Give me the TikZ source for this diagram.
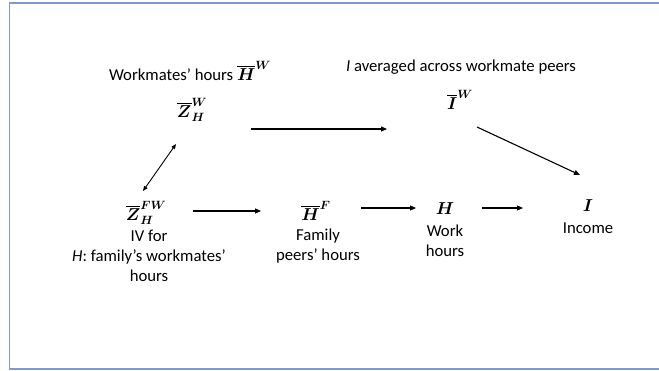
\documentclass[tikz,border=0pt]{standalone}
\usepackage{amsmath}
\usepackage{fontspec}
\setmainfont{Carlito}
\usepackage{xcolor}
\usepackage{tikz}
\usetikzlibrary{arrows.meta, positioning, calc}

\definecolor{framecol}{HTML}{7F9CC6}

\begin{document}
\begin{tikzpicture}[x=1pt, y=-1pt,
    var/.style={inner sep=0pt, font=\fontsize{16.5}{20}\selectfont},
    lbl/.style={inner sep=0pt, align=center, font=\fontsize{16.7}{20}\selectfont},
    arr/.style={line width=1.1pt, -{Triangle[length=6pt,width=5pt]}},
    dbl/.style={line width=0.9pt, {Triangle[length=5pt,width=4pt]}-{Triangle[length=5pt,width=4pt]}}]
    \useasboundingbox (0,0) rectangle (659,370);
    \draw[framecol, line width=1.5pt] (9.5,3) rectangle (665,369);

    % top row
    \node[lbl] (hwlbl) at (190,71) {Workmates’ hours $\overline{\boldsymbol{H}}^{\boldsymbol{W}}$};
    \node[var] (zw) at (192,110) {$\overline{\boldsymbol{Z}}_{\boldsymbol{H}}^{\boldsymbol{W}}$};
    \node[lbl] (iwlbl) at (461,67) {\textit{I} averaged across workmate peers};
    \node[var] (iw) at (460,100) {$\overline{\boldsymbol{I}}^{\boldsymbol{W}}$};

    % bottom row
    \node[var] (zfw) at (146,213) {$\overline{\boldsymbol{Z}}_{\boldsymbol{H}}^{\boldsymbol{FW}}$};
    \node[lbl] (zfwlbl) at (149,256) {IV for\\\textit{H}: family’s workmates’\\hours};
    \node[var] (hf) at (316,211) {$\overline{\boldsymbol{H}}^{\boldsymbol{F}}$};
    \node[lbl] (hflbl) at (318,246) {Family\\peers’ hours};
    \node[var] (h) at (445,209) {$\boldsymbol{H}$};
    \node[lbl] (hlbl) at (445,241) {Work\\hours};
    \node[var] (i) at (588,206) {$\boldsymbol{I}$};
    \node[lbl] (ilbl) at (588,228) {Income};

    % arrows
    \draw[arr] ($(zw)+(59,19)$) -- ($(iw)+(-73,29)$);
    \draw[arr] ($(iw)+(17,27)$) -- ($(i)+(-8,-31)$);
    \draw[dbl] ($(zw)+(-16,34)$) -- ($(zfw)+(-3,-22)$);
    \draw[arr] ($(zfw)+(47,-2)$) -- ($(hf)+(-55,0)$);
    \draw[arr] ($(hf)+(45,-3)$) -- ($(h)+(-29,-1)$);
    \draw[arr] ($(h)+(37,-1)$) -- ($(i)+(-65,2)$);
\end{tikzpicture}
\end{document}
